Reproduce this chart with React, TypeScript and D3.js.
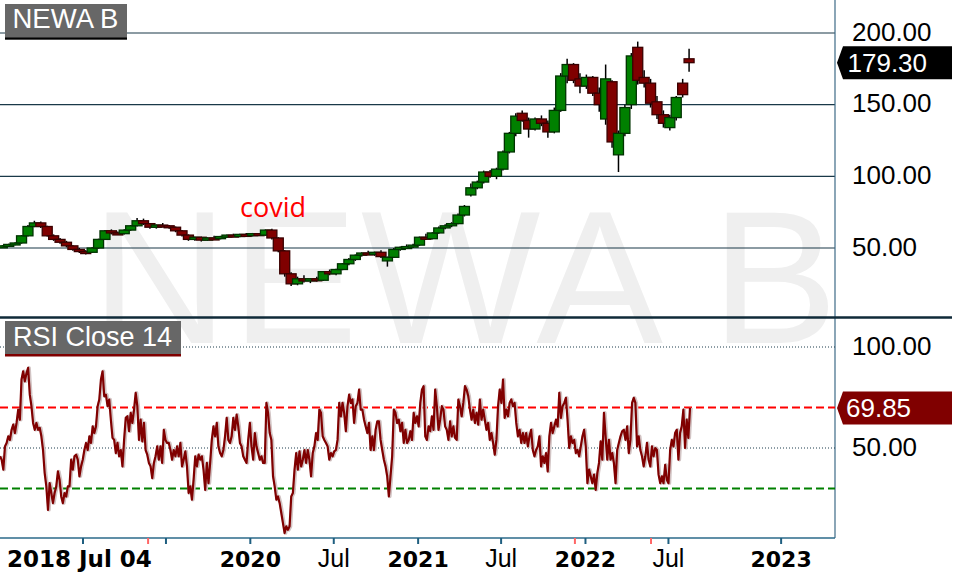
import React from 'react';
import * as d3 from 'd3';

// ---------- DATA ----------
const candleStart = new Date(2018, 6, 9);
const candleStepDays = 14;
const candleOpen = [50.5,51.5,52.5,53.5,58.5,65,67.5,65,58.5,56,54,51.5,49,47.5,47,50,56,62,60.5,60,62.5,65.5,69,67,64.5,66,65.5,64.5,62,59,56,57.5,55.5,57,56.5,58,59,58,59.5,59,60,59,62.5,57,48,32,25,28.5,27,28.5,27.5,33.5,32,35,39,42,45,46.5,46,47,41,43.5,49,50.5,51,52,57.5,56.5,60.5,64,65.5,67,73,87,92,96,103,100,105,117,130,144,139,133,140,137,131,146,170,178,168,163,169,158,140,166,115,130,150,190,169,165,152,143,134,141,165,182];
const candleHigh = [52,53,54,59,66,69,68.5,65.5,59.5,57,55,52,50,48.5,50.5,56.5,62.5,63,61.5,63,66,71,70.5,67.5,66.5,67.5,66,65,62.5,59.5,58,58,57.5,58.5,58.5,59.5,60,60,60.5,60.5,60.5,63,63.5,57.5,48.5,33,30,31,29,30,34,35,35.5,39.5,43,45.5,47,48,47.5,48.5,44,50,51,52.5,53,58,60,61,65,66.5,68,74,80,95,97,104,104.5,106,118,131,144,146,141,141,142.5,139,148,172,182,179,172,171,170,162,178,167,132,150,186,194,174,168,156,146,143,156,168,189];
const candleLow = [50,51,52,53,58,64.5,64,58,55,53,50.5,48,46.5,45.5,46.5,49.5,55.5,59.5,59,59.5,62,65,66,63.5,63.5,64.5,63.5,61,58,55,55,54.5,55,56,56,57,57.5,57.5,58.5,58,58.5,58.5,56,47,30,23.5,24,26,25.5,26.5,27,31,31,34.5,38,41,44,45.5,44.5,43,37,43,48,49.5,50,51.5,55.5,56,60,63,64.5,66.5,72,86,91,95,99,98,104,116,128,138,127,132,135,127,130,145,165,165,158,161,156,145,136,120,103,128,147,164,162,148,140,134,132,139,155,173];
const candleClose = [51.5,52.5,53.5,58.5,65,67.5,65,58.5,56,54,51.5,49,47.5,47,50,56,62,60.5,60,62.5,65.5,69,67,64.5,66,65.5,64.5,62,59,56,57.5,55.5,57,56.5,58,59,58,59.5,59,60,59,62.5,57,48,32,25,28.5,27,28.5,27.5,33.5,32,35,39,42,45,46.5,46,47,44,43.5,49,50.5,51,52,57.5,56.5,60.5,64,65.5,67,73,79,92,96,103,100,105,117,130,142,139,133,140,137,131,146,170,178,167,163,169,158,150,168,124,130,148,184,167,165,151,143,137,141,155,157,179.3];

const rsiStart = new Date(2018, 6, 4);
const rsiEnd = new Date(2022, 7, 17);
const rsiPart1 = [45.9,44.2,39.3,50.8,52.5,55.8,54,59,61.6,57.4,62.4,69,64,83.9,88,83,87,89.7,76.4,70.7,62.4,59,62.4,59,60,55.8,49,37.6,31,19.4,32.6,27.7,22.7,27.7,31,38.4,34.3,26,22.7,27.7,26,31,31,44.2,39.3,45.9,46.7,44.2,36,40.9,44.2,49,52.5,49,55.8,52.5,60.7,57.4,60.7,70.7,74,83.9,88,75.6,76.4,70.7,74,64,55,54,47.5,52.5,45.9,49,40.9,54,64.9,65.7,58.3,67.4,62.4,69,77.3,70.7,54,64,53.3,62.4,49,46.7,42.6,40.9,35.1,42.6,45.9,50.8,44.2,50.8,42.6,59,54,52.5,52.5,49,44.2,49,45.9,50.8,45.9,52.5,40.9,44.2,48.3,40.9,27.7,31,24.4,34.3,45.9,40.9,46.7,44.2,45.9,39.3,29.3,42.6,32.6,42.6,54,60.7,55.8,62.4,50.8,47.5,45.9,49,55.8,64.9,54];
const rsiPart2 = [52.5,55.8,64.9,59,66.5,60.7,52.5,50.8,45.9,44.2,42.6,54,62.4,50.8,44.2,57.4,50.8,47.5,44.2,45.9,42.6,42.6,72.3,67.4,57.4,54,36,31,24.4,26,22.7,17.8,12.8,7.9,11.2,9.5,11.2,26,27.7,39.3,47.5,39.3,48.3,40.9,44.2,49,42.6,49,44.2,36,47.5,50.8,57.4,54,69,67.4,55.8,54,52.5,50.8,44.2,47.5,45.9,48.3,49,54,72.3,65.7,72.3,67.4,58.3,70.7,76.4,72.3,74,62.4,70.7,72.3,78.9,69,69,64,60.7,57.4,62.4,49,55.8,49,59,63.2,63.2,54,49,44.2,40.9,36,26,36,45.9,69,67.4,62.4,64,58.3,62.4,52.5,59,52.5,54,58.3,54,67.4,62.4,65.7,60.7,72.3,78.9,80.6,55.8,54,60.7,58.3,65.7,59,78.9,70.7,59,64,70.7,69,60.7,59,54,63.2,55.8,60.7,55,54,74];
const rsiPart3 = [70.7,65.7,72.3,80.6,78.9,75.6,69,64,69,62.4,67.4,61.6,74,64,69,64,59,62.4,54,57.4,52.5,46.7,54,70.7,78.9,72.3,83.9,64.9,69,65.7,72.3,74,70.7,72.3,62.4,55.8,59,52.5,57.4,52.5,57.4,50.8,55.8,59,49,45.9,49,50.8,55.8,40.9,45.9,42.6,47.5,38.4,55.8,62.4,57.4,60.7,64,60.7,77.3,64.9,70.7,72.3,74.8,64,50,55.8,52.5,54,47.5,49,45.9,50.8,55.8,59,50.8,32.6,39.3,36,32.6,36.8,29.3,37.6,42.6,53.3,44.2,67.4,55.8,44.2,54,44.2,47.5,42.6,32.6,49,52.5,55.8,58.3,59,54,60.7,47.5,54,72.3,74.8,72.3,50.8,55.8,49,45.9,40.9,45.9,52.5,44.2,40.9,50.8,45.9,50,49,36.8,32.6,36,32.6,41.7,34.3,32.6,49,54,50.8,57.4,59,44.2,57.4,60.7,69,50,64,55,69.85];

const priceTicks = [50, 100, 150, 200];
const rsiTicks = [50, 100];
const lastPrice = 179.3;
const lastRsi = 69.85;

const timeTicks = [
  new Date(2019, 0, 1), new Date(2019, 6, 1), new Date(2020, 0, 1), new Date(2020, 6, 1),
  new Date(2021, 0, 1), new Date(2021, 6, 1), new Date(2022, 0, 1), new Date(2022, 6, 1), new Date(2023, 0, 1),
];
const timeTickLabels = ['', '', '2020', 'Jul', '2021', 'Jul', '2022', 'Jul', '2023'];
const eventDates = [new Date(2019, 4, 23), new Date(2021, 11, 9), new Date(2022, 4, 24)];

const FONT = '"Liberation Sans", Arial, sans-serif';

export default function App() {
  const W = 972, H = 581;
  const plotRight = 835;
  const x = d3.scaleTime()
    .domain([rsiStart, rsiEnd, new Date(2023, 2, 23)])
    .range([0, 690, plotRight]);
  const yP = d3.scaleLinear().domain([50, 200]).range([248, 33]);
  const yR = d3.scaleLinear().domain([50, 100]).range([448, 347]);

  const candles = candleOpen.map((o, i) => ({
    date: d3.timeDay.offset(candleStart, candleStepDays * i),
    o, h: candleHigh[i], l: candleLow[i], c: candleClose[i],
  }));

  const rsiValues = [...rsiPart1, ...rsiPart2, ...rsiPart3];
  const idxToTime = d3.scaleLinear().domain([0, rsiValues.length - 1]).range([rsiStart.getTime(), rsiEnd.getTime()]);
  const rsiData = rsiValues.map((v, i) => ({ date: new Date(idxToTime(i)), v }));
  const rsiLine = d3.line<{ date: Date; v: number }>().x(d => x(d.date)).y(d => yR(d.v));
  const rsiPath = rsiLine(rsiData) || '';

  const bw = 10;

  const badge = (y: number) =>
    `M837,${y} L843,${y - 16.5} L952,${y - 16.5} L952,${y + 16.5} L843,${y + 16.5} Z`;

  return (
    <svg width={W} height={H} style={{ position: 'fixed', left: 0, top: 0, background: '#fff' }}
      fontFamily={FONT}>
      <rect x={0} y={0} width={W} height={H} fill="#fff" />
      {/* watermark */}
      <text x={91} y={343} fontSize={190} letterSpacing={3} fill="#efefef" fontFamily={FONT}>NEWA B</text>

      {/* price grid */}
      {priceTicks.map(t => (
        <line key={t} x1={0} x2={plotRight} y1={yP(t)} y2={yP(t)} stroke="#1a3848" strokeWidth={1.2} />
      ))}

      {/* candles */}
      {candles.map((d, i) => {
        const up = d.c >= d.o;
        const cx = x(d.date);
        const top = yP(Math.max(d.o, d.c));
        const bot = yP(Math.min(d.o, d.c));
        return (
          <g key={i}>
            <line x1={cx} x2={cx} y1={yP(d.h)} y2={yP(d.l)} stroke="#000" strokeWidth={1.5} />
            <rect x={cx - bw / 2} y={top} width={bw} height={Math.max(2, bot - top)}
              fill={up ? '#008000' : '#800000'} stroke={up ? '#003300' : '#3a0000'} strokeWidth={1.3} />
          </g>
        );
      })}

      <text x={240} y={216.5} fontSize={27} fill="#ff0000" fontFamily='"Open Sans", sans-serif'>covid</text>

      {/* right border */}
      <line x1={plotRight} x2={plotRight} y1={0} y2={538} stroke="#3d6a86" strokeWidth={1.2} />

      {/* price axis labels */}
      {priceTicks.map(t => (
        <text key={t} x={852} y={yP(t) - 1.5} fontSize={26} fill="#000" dominantBaseline="central">
          {t.toFixed(2)}
        </text>
      ))}

      {/* price badge */}
      <path d={badge(yP(lastPrice))} fill="#000" />
      <text x={847.5} y={yP(lastPrice)} fontSize={26} fill="#fff" dominantBaseline="central">{lastPrice.toFixed(2)}</text>

      {/* separator */}
      <line x1={0} x2={952} y1={317.5} y2={317.5} stroke="#0f2a38" strokeWidth={2.5} />

      {/* RSI guides */}
      {rsiTicks.map(t => (
        <line key={t} x1={0} x2={plotRight} y1={yR(t)} y2={yR(t)} stroke="#1d3d4d" strokeWidth={1} strokeDasharray="1,2" />
      ))}
      <line x1={0} x2={plotRight} y1={yR(70)} y2={yR(70)} stroke="#ff0000" strokeWidth={2} strokeDasharray="8,4" />
      <line x1={0} x2={plotRight} y1={yR(30)} y2={yR(30)} stroke="#008000" strokeWidth={2} strokeDasharray="8,4" />

      {/* RSI line */}
      <path d={rsiPath} fill="none" stroke="#d2c4c4" strokeWidth={3.5} strokeLinejoin="round" transform="translate(1,0)" />
      <path d={rsiPath} fill="none" stroke="#800000" strokeWidth={2.2} strokeLinejoin="round" />

      {/* RSI axis labels */}
      {rsiTicks.map(t => (
        <text key={t} x={852} y={yR(t) - 1.5} fontSize={26} fill="#000" dominantBaseline="central">
          {t.toFixed(2)}
        </text>
      ))}
      <path d={badge(yR(lastRsi))} fill="#800000" />
      <text x={846} y={yR(lastRsi)} fontSize={26} fill="#fff" dominantBaseline="central">{lastRsi.toFixed(2)}</text>

      {/* bottom axis */}
      <line x1={0} x2={plotRight} y1={538} y2={538} stroke="#2b6a8a" strokeWidth={1.5} />
      {timeTicks.map((t, i) => (
        <line key={'t' + i} x1={x(t)} x2={x(t)} y1={538} y2={544} stroke="#1f5f80" strokeWidth={2} />
      ))}
      {eventDates.map((t, i) => (
        <line key={'e' + i} x1={x(t)} x2={x(t)} y1={538} y2={544} stroke="#ff6666" strokeWidth={2} />
      ))}
      {timeTicks.map((t, i) => {
        const lab = timeTickLabels[i];
        if (!lab) return null;
        const bold = lab !== 'Jul';
        return (
          <text key={'l' + i} x={x(t)} y={566.5} textAnchor="middle" fill="#000"
            fontSize={bold ? 22 : 25} fontWeight={bold ? 'bold' : 'normal'}
            fontFamily={bold ? '"DejaVu Sans", sans-serif' : FONT}>
            {lab}
          </text>
        );
      })}
      <text x={7} y={566.5} fontSize={23} fontWeight="bold" fill="#000" fontFamily='"DejaVu Sans", sans-serif'>2018 Jul 04</text>

      {/* title boxes */}
      <rect x={5} y={4} width={122} height={34} fill="#676767" />
      <rect x={5} y={37.5} width={122} height={2.2} fill="#000" />
      <text x={12.5} y={28.3} fontSize={27.5} fill="#fff">NEWA B</text>

      <rect x={5} y={321} width={176} height={33.5} fill="#676767" />
      <rect x={5} y={354} width={176} height={2.5} fill="#800000" />
      <text x={13} y={345.7} fontSize={27} fill="#fff">RSI Close 14</text>
    </svg>
  );
}
